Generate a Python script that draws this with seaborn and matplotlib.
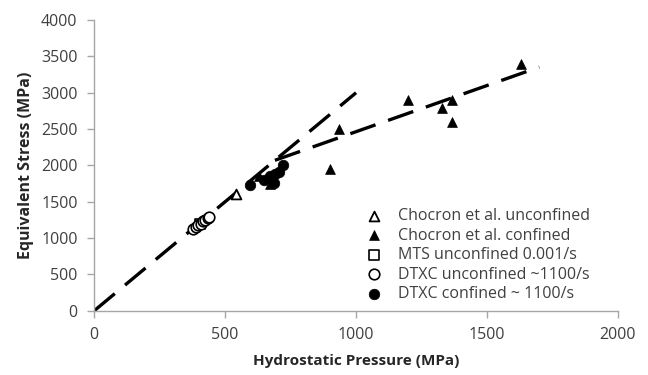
import matplotlib
matplotlib.use("Agg")
import matplotlib.pyplot as plt
import seaborn as sns
import numpy as np
import pandas as pd

# Hydrostatic pressure (MPa) vs equivalent stress (MPa)
chocron_unconf_p = [540]
chocron_unconf_s = [1600]

chocron_conf_p = [630, 670, 900, 935, 1200, 1330, 1365, 1365, 1630]
chocron_conf_s = [1850, 1750, 1950, 2500, 2900, 2790, 2900, 2600, 3400]

mts_unconf_p = [405]
mts_unconf_s = [1190]

dtxc_unconf_p = [378, 388, 398, 408, 415, 424, 433, 440]
dtxc_unconf_s = [1130, 1150, 1175, 1200, 1230, 1250, 1275, 1290]

dtxc_conf_p = [595, 650, 670, 685, 690, 705, 722]
dtxc_conf_s = [1730, 1800, 1850, 1760, 1880, 1910, 2005]

# Dashed trend lines (end points)
trend1_p = [0, 1000]
trend1_s = [0, 3000]
trend2_p = [690, 1700]
trend2_s = [2070, 3353]

x_ticks = [0, 500, 1000, 1500, 2000]
y_ticks = [0, 500, 1000, 1500, 2000, 2500, 3000, 3500, 4000]

sns.set_theme(style="white")
plt.rcParams["font.family"] = ["Open Sans", "DejaVu Sans"]

fig = plt.figure(figsize=(6.48, 3.75), dpi=100)
ax = fig.add_axes([0.1455, 0.1715, 0.808, 0.775])

dash_kw = dict(color="black", linewidth=2.4, dashes=(8.0, 4.0),
               dash_capstyle="butt", zorder=1)
sns.lineplot(x=trend1_p, y=trend1_s, ax=ax, sort=False, estimator=None, **dash_kw)
sns.lineplot(x=trend2_p, y=trend2_s, ax=ax, sort=False, estimator=None, **dash_kw)

ms_tri = 50
ms_circ = 58
sns.scatterplot(x=chocron_unconf_p, y=chocron_unconf_s, ax=ax, marker="^", s=ms_tri,
                facecolor="white", edgecolor="black", linewidth=1.3,
                label="Chocron et al. unconfined", zorder=3)
sns.scatterplot(x=chocron_conf_p, y=chocron_conf_s, ax=ax, marker="^", s=ms_tri,
                color="black", edgecolor="black", linewidth=0.5,
                label="Chocron et al. confined", zorder=3)
sns.scatterplot(x=mts_unconf_p, y=mts_unconf_s, ax=ax, marker="s", s=44,
                facecolor="white", edgecolor="black", linewidth=1.2,
                label="MTS unconfined 0.001/s", zorder=3)
sns.scatterplot(x=dtxc_unconf_p, y=dtxc_unconf_s, ax=ax, marker="o", s=ms_circ,
                facecolor="white", edgecolor="black", linewidth=1.2,
                label="DTXC unconfined ~1100/s", zorder=3)
sns.scatterplot(x=dtxc_conf_p, y=dtxc_conf_s, ax=ax, marker="o", s=ms_circ,
                color="black", edgecolor="black", linewidth=0.5,
                label="DTXC confined ~ 1100/s", zorder=3)

ax.set_xlim(0, 2000)
ax.set_ylim(0, 4000)
ax.set_xticks(x_ticks)
ax.set_yticks(y_ticks)
ax.set_xticklabels([str(v) for v in x_ticks])
ax.set_yticklabels([str(v) for v in y_ticks])

spine_col = "#a6a6a6"
for side in ["top", "right"]:
    ax.spines[side].set_visible(False)
for side in ["left", "bottom"]:
    ax.spines[side].set_color(spine_col)
    ax.spines[side].set_linewidth(1.0)
ax.tick_params(axis="both", which="major", direction="out", length=5,
               width=1.0, color=spine_col, labelsize=11.5, labelcolor="#404040",
               left=True, bottom=True, pad=7)

ax.set_xlabel("Hydrostatic Pressure (MPa)", fontsize=11, fontweight="bold",
              color="#262626", labelpad=8)
ax.set_ylabel("Equivalent Stress (MPa)", fontsize=11.5, fontweight="bold",
              color="#262626", labelpad=5)

leg = ax.legend(loc="upper left", bbox_to_anchor=(356 / 648, 1 - 200 / 375),
                bbox_transform=fig.transFigure, frameon=False, fontsize=11.5,
                handletextpad=0.9, labelspacing=0.22, borderpad=0,
                handlelength=1.2)
for t in leg.get_texts():
    t.set_color("#404040")

fig.savefig("out.png", dpi=100, facecolor="white")
